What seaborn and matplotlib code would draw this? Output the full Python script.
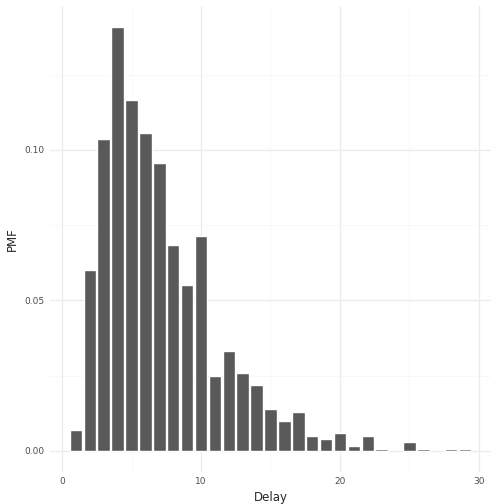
import numpy as np
import pandas as pd
import seaborn as sns
import matplotlib.pyplot as plt
from matplotlib.ticker import MultipleLocator

delay = [1, 2, 3, 4, 5, 6, 7, 8, 9, 10, 11, 12, 13, 14, 15, 16, 17, 18, 19, 20,
         21, 22, 23, 25, 26, 28, 29]
pmf = [0.007, 0.060, 0.1037, 0.141, 0.1166, 0.1056, 0.0957, 0.0684, 0.0551, 0.0714,
       0.0249, 0.0332, 0.0259, 0.0219, 0.014, 0.010, 0.013, 0.005, 0.004, 0.006,
       0.0017, 0.005, 0.0007, 0.003, 0.0007, 0.0007, 0.0007]

df = pd.DataFrame({'Delay': delay, 'PMF': pmf})

sns.set_style('white')
fig = plt.figure(figsize=(5.04, 5.04), dpi=100)
ax = fig.add_axes([0.0984, 0.0635, 0.975 - 0.0984, 0.989 - 0.0635])

ax.grid(True, which='major', color='#ebebeb', linewidth=0.9)
ax.grid(True, which='minor', color='#f5f5f5', linewidth=0.5)
ax.set_axisbelow(True)

sns.barplot(data=df, x='Delay', y='PMF', native_scale=True, width=0.9,
            color='#595959', saturation=1, ax=ax)

ax.set_xlim(-0.895, 30.895)
ax.set_ylim(-0.00705, 0.148)
ax.xaxis.set_major_locator(MultipleLocator(10))
ax.xaxis.set_minor_locator(MultipleLocator(5))
ax.yaxis.set_major_locator(MultipleLocator(0.05))
ax.yaxis.set_minor_locator(MultipleLocator(0.025))
ax.yaxis.set_major_formatter(plt.FuncFormatter(lambda v, p: f'{v:.2f}'))
ax.tick_params(which='both', length=0, labelsize=6.5, labelcolor='#4d4d4d')
for s in ax.spines.values():
    s.set_visible(False)
ax.set_xlabel('Delay', fontsize=8.5)
ax.set_ylabel('PMF', fontsize=8.5)

fig.savefig('out.png', dpi=100)
